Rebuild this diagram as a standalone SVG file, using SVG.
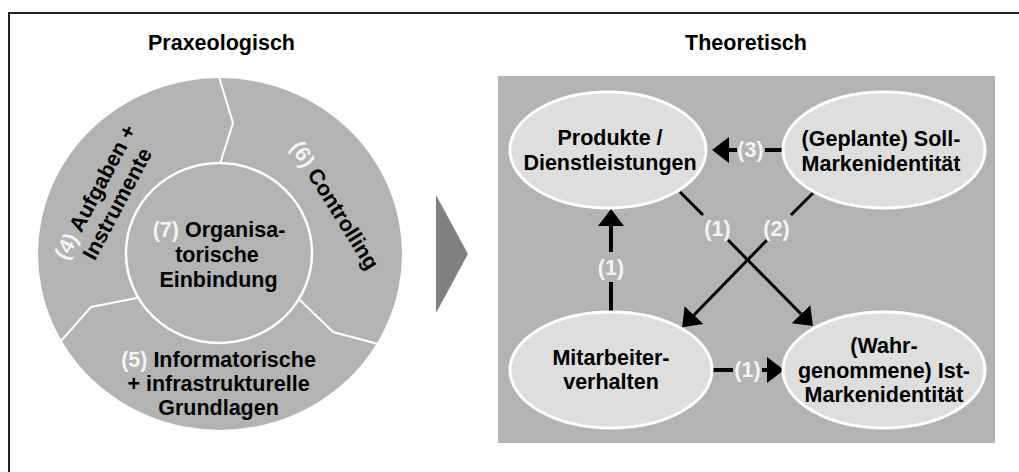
<svg xmlns="http://www.w3.org/2000/svg" width="1019" height="472" viewBox="0 0 1019 472">
  <style>
    text { font-family: "Liberation Sans", Arial, sans-serif; font-weight: bold; font-size: 21.5px; fill: #000; text-anchor: middle; }
    .num { fill: #f4f4f4; }
    .lbl { fill: #f4f4f4; }
    .ring { fill: #b3b3b3; }
    .divider { fill: none; stroke: #fff; stroke-width: 2; stroke-linejoin: miter; }
    .node { fill: #dedede; stroke: #fff; stroke-width: 3; }
    .edge { fill: none; stroke: #000; stroke-width: 4; }
    .edge-thin { fill: none; stroke: #000; stroke-width: 3; }
  </style>
  <defs>
    <marker id="head" markerUnits="userSpaceOnUse" markerWidth="18" markerHeight="26" refX="0" refY="13" orient="auto">
      <path d="M0,0 L17,13 L0,26 Z" fill="#000"/>
    </marker>
  </defs>

  <rect width="1019" height="472" fill="#fff"/>
  <!-- frame -->
  <path d="M9,472 V13 H1019" fill="none" stroke="#222" stroke-width="2"/>

  <!-- section titles -->
  <text x="221.5" y="50">Praxeologisch</text>
  <text x="746" y="50">Theoretisch</text>

  <!-- left: ring of fields -->
  <g id="ring">
    <ellipse class="ring" cx="220" cy="254" rx="182" ry="176"/>
    <path class="divider" d="M219,77 L233,123 L220,164"/>
    <path class="divider" d="M137,298 L91,307 L61,341"/>
    <path class="divider" d="M300,300 L333,332 L378,344"/>
  </g>

  <g id="field-4" transform="translate(101.6,195.5) rotate(-62)">
    <text x="0" y="0"><tspan class="num">(4)</tspan> Aufgaben +</text>
    <text x="0" y="25">Instrumente</text>
  </g>

  <g id="field-6" transform="translate(328.6,209) rotate(58)">
    <text x="0" y="0"><tspan class="num">(6)</tspan> Controlling</text>
  </g>

  <g id="field-5">
    <text x="218.5" y="367"><tspan class="num">(5)</tspan> Informatorische</text>
    <text x="218.5" y="391">+ infrastrukturelle</text>
    <text x="218.5" y="415">Grundlagen</text>
  </g>

  <g id="field-7">
    <ellipse class="ring" cx="219" cy="253" rx="93" ry="90" stroke="#fff" stroke-width="2.5"/>
    <text x="219" y="237"><tspan class="num">(7)</tspan> Organisa-</text>
    <text x="217" y="262">torische</text>
    <text x="218.5" y="287">Einbindung</text>
  </g>

  <!-- transition chevron -->
  <polygon id="chevron" points="436,195 468,254 436,313" fill="#808080"/>

  <!-- right: model panel -->
  <rect id="panel" x="498" y="76" width="497" height="367" fill="#b3b3b3"/>

  <g id="connectors">
    <!-- (3) Soll -> Produkte -->
    <line class="edge" x1="783" y1="150" x2="765" y2="150"/>
    <line class="edge" x1="737" y1="150" x2="729" y2="150" marker-end="url(#head)"/>
    <text class="lbl" x="750.5" y="157">(3)</text>

    <!-- (1) Mitarbeiter -> Produkte -->
    <line class="edge" x1="611" y1="312" x2="611" y2="282"/>
    <line class="edge" x1="611" y1="252" x2="611" y2="226" marker-end="url(#head)"/>
    <text class="lbl" x="611" y="275">(1)</text>

    <!-- (1) Produkte -> Ist -->
    <line class="edge-thin" x1="680" y1="192" x2="703" y2="215"/>
    <line class="edge-thin" x1="728" y1="240" x2="801" y2="314" marker-end="url(#head)"/>
    <text class="lbl" x="717.5" y="236">(1)</text>

    <!-- (2) Soll -> Mitarbeiter -->
    <line class="edge-thin" x1="813" y1="193" x2="791" y2="215"/>
    <line class="edge-thin" x1="767" y1="240" x2="694" y2="315" marker-end="url(#head)"/>
    <text class="lbl" x="776.5" y="236">(2)</text>

    <!-- (1) Mitarbeiter -> Ist -->
    <line class="edge" x1="711" y1="370" x2="733" y2="370"/>
    <line class="edge" x1="762" y1="370" x2="767" y2="370" marker-end="url(#head)"/>
    <text class="lbl" x="747.5" y="377">(1)</text>
  </g>

  <g id="node-produkte">
    <ellipse class="node" cx="608" cy="150" rx="98" ry="58"/>
    <text x="610" y="145">Produkte /</text>
    <text x="610" y="170">Dienstleistungen</text>
  </g>

  <g id="node-soll">
    <ellipse class="node" cx="884" cy="150" rx="101" ry="58"/>
    <text x="881" y="146">(Geplante) Soll-</text>
    <text x="881" y="171">Markenidentität</text>
  </g>

  <g id="node-mitarbeiter">
    <ellipse class="node" cx="611" cy="370" rx="101" ry="58"/>
    <text x="611" y="365">Mitarbeiter-</text>
    <text x="611" y="389">verhalten</text>
  </g>

  <g id="node-ist">
    <ellipse class="node" cx="884" cy="370" rx="101" ry="58"/>
    <text x="884" y="353">(Wahr-</text>
    <text x="884" y="378">genommene) Ist-</text>
    <text x="884" y="402">Markenidentität</text>
  </g>
</svg>
